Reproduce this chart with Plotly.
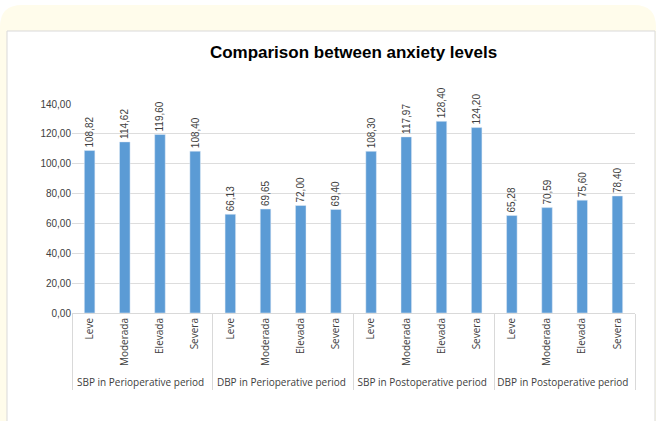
import plotly.graph_objects as go

groups = ["SBP in Perioperative period", "DBP in Perioperative period",
          "SBP in Postoperative period", "DBP in Postoperative period"]
levels = ["Leve", "Moderada", "Elevada", "Severa"]
values = [
    [108.82, 114.62, 119.60, 108.40],
    [66.13, 69.65, 72.00, 69.40],
    [108.30, 117.97, 128.40, 124.20],
    [65.28, 70.59, 75.60, 78.40],
]
y_ticks = [0, 20, 40, 60, 80, 100, 120, 140]

xg, xc, yv = [], [], []
for g, vals in zip(groups, values):
    for c, v in zip(levels, vals):
        xg.append(g); xc.append(c); yv.append(v)

fig = go.Figure(go.Bar(
    x=[xg, xc], y=yv,
    marker=dict(color="#5B9BD5"),
    text=[f"{v:.2f}".replace(".", ",") for v in yv],
    textposition="outside", textangle=-90, constraintext="none",
    textfont=dict(family="Liberation Sans, Arial", size=10, color="#404040"),
    cliponaxis=False,
))

W, H = 656, 421
L, R, T, B = 72, 21, 104, 108
pw, ph = W - L - R, H - T - B


def px(x):
    return (x - L) / pw


def py(y):
    return 1 - (y - T) / ph


# cream rounded card
r = 22
cx0, cy0, cx1, cy1 = 0, 5, W, H + 5
path = (f"M {px(cx0)} {py(cy0 + r)} Q {px(cx0)} {py(cy0)} {px(cx0 + r)} {py(cy0)} "
        f"L {px(cx1 - r)} {py(cy0)} Q {px(cx1)} {py(cy0)} {px(cx1)} {py(cy0 + r)} "
        f"L {px(cx1)} {py(cy1)} L {px(cx0)} {py(cy1)} Z")
fig.add_shape(type="path", xref="paper", yref="paper", path=path,
              fillcolor="#FFFCEB", line=dict(width=0), layer="below")
fig.add_shape(type="rect", xref="paper", yref="paper",
              x0=px(7), x1=px(655), y0=py(H + 5), y1=py(31),
              fillcolor="white", line=dict(color="#D9D9D9", width=1), layer="below")

fig.update_layout(
    width=W, height=H,
    margin=dict(l=L, r=R, t=T, b=B),
    paper_bgcolor="white", plot_bgcolor="rgba(0,0,0,0)",
    bargap=0.7, showlegend=False,
    separators=",.",
    title=dict(text="<b>Comparison between anxiety levels</b>", x=0.5, xanchor="center",
               y=1 - 52 / H, yanchor="middle", xref="paper",
               font=dict(family="Liberation Sans, Arial", size=17, color="#000000")),
    font=dict(family="Liberation Sans, Arial", size=10, color="#404040"),
)
fig.update_xaxes(type="multicategory", tickangle=-90, showline=True, linecolor="#D9D9D9",
                 showdividers=True, dividercolor="#D9D9D9", dividerwidth=1,
                 tickfont=dict(family="Open Sans, Liberation Sans", size=10, color="#404040"),
                 automargin=False, ticks="")
fig.update_yaxes(range=[0, 140], tickvals=y_ticks, tickformat=".2f",
                 gridcolor="#DDDDDD", zeroline=False, showline=False,
                 tickfont=dict(size=10, color="#404040"), automargin=False, ticks="")
fig.write_html("out.html", config={"displayModeBar": False},
               post_script="document.body.style.margin='0px';")
